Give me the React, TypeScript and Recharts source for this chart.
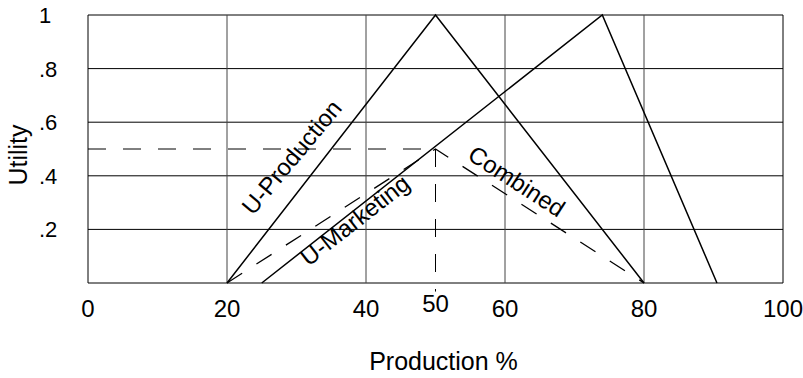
import React from 'react';
import {
  Label,
  Line,
  LineChart,
  ReferenceArea,
  ReferenceDot,
  ReferenceLine,
  XAxis,
  YAxis
} from 'recharts';

const productionX = [20, 50, 80];
const productionU = [0, 1, 0];
const marketingX = [25, 74, 90.5];
const marketingU = [0, 1, 0];
const combinedX = [20, 50, 80];
const combinedU = [0, 0.5, 0];

const xTicks = [0, 20, 40, 50, 60, 80, 100];
const yTicks = [0.2, 0.4, 0.6, 0.8, 1];
const yTickLabels = ['.2', '.4', '.6', '.8', '1'];
const gridX = [20, 40, 60, 80];
const gridY = [0.2, 0.4, 0.6, 0.8];

// where the combined curve peaks, marked by the dashed guides
const optimumX = 50;
const optimumU = 0.5;

const curveLabels = [
  { text: 'U-Production', x: 29.3, u: 0.47, angle: -50 },
  { text: 'U-Marketing', x: 38.4, u: 0.235, angle: -38 },
  { text: 'Combined', x: 61.7, u: 0.38, angle: 33 }
];

const FONT = '"Liberation Sans", Arial, Helvetica, sans-serif';
const DASH = '18 17';

const toPoints = (xs: number[], us: number[]) => xs.map((x, i) => ({ x, u: us[i] }));

function XTick({ x, y, payload }: any) {
  const lift = payload.value === optimumX ? -5 : 0;
  return (
    <text x={x} y={y + 32 + lift} textAnchor="middle" fontSize={24} fontFamily={FONT} fill="#000">
      {payload.value}
    </text>
  );
}

function YTick({ y, payload }: any) {
  const index = yTicks.indexOf(payload.value);
  return (
    <text x={39} y={y + 8} textAnchor="start" fontSize={22} fontFamily={FONT} fill="#000">
      {yTickLabels[index]}
    </text>
  );
}

export default function App() {
  return (
    <div style={{ position: 'absolute', left: 0, top: 0, background: '#fff' }}>
      <LineChart width={803} height={378} margin={{ top: 15, right: 20, bottom: 0, left: 0 }}>
        <XAxis
          type="number"
          dataKey="x"
          domain={[0, 100]}
          ticks={xTicks}
          interval={0}
          height={95}
          axisLine={false}
          tickLine={false}
          tickSize={0}
          tick={<XTick />}
        >
          <Label
            content={({ viewBox }: any) => (
              <text
                x={viewBox.x + viewBox.width / 2 + 8}
                y={viewBox.y + 87}
                textAnchor="middle"
                fontSize={25}
                fontFamily={FONT}
                fill="#000"
              >
                Production %
              </text>
            )}
          />
        </XAxis>
        <YAxis
          type="number"
          dataKey="u"
          domain={[0, 1]}
          ticks={yTicks}
          interval={0}
          width={88}
          axisLine={false}
          tickLine={false}
          tickSize={0}
          tick={<YTick />}
        >
          <Label
            content={({ viewBox }: any) => {
              const cx = viewBox.x + 18;
              const cy = viewBox.y + viewBox.height / 2 + 6;
              return (
                <text
                  x={cx}
                  y={cy}
                  transform={`rotate(-90 ${cx} ${cy})`}
                  textAnchor="middle"
                  dominantBaseline="central"
                  fontSize={25}
                  fontFamily={FONT}
                  fill="#000"
                >
                  Utility
                </text>
              );
            }}
          />
        </YAxis>

        {gridY.map(u => (
          <ReferenceLine key={`gy${u}`} y={u} stroke="#000" strokeWidth={1} />
        ))}
        {gridX.map(x => (
          <ReferenceLine key={`gx${x}`} x={x} stroke="#444" strokeWidth={1} />
        ))}
        <ReferenceArea x1={0} x2={100} y1={0} y2={1} fill="none" stroke="#000" strokeWidth={1} />

        <ReferenceLine
          segment={[{ x: 0, y: optimumU }, { x: optimumX, y: optimumU }]}
          stroke="#000"
          strokeDasharray={DASH}
        />
        <ReferenceLine
          segment={[{ x: optimumX, y: optimumU }, { x: optimumX, y: -0.032 }]}
          stroke="#000"
          strokeDasharray={DASH}
          ifOverflow="visible"
        />

        <Line
          data={toPoints(productionX, productionU)}
          dataKey="u"
          type="linear"
          stroke="#000"
          strokeWidth={1.5}
          dot={false}
          isAnimationActive={false}
        />
        <Line
          data={toPoints(marketingX, marketingU)}
          dataKey="u"
          type="linear"
          stroke="#000"
          strokeWidth={1.5}
          dot={false}
          isAnimationActive={false}
        />
        <Line
          data={toPoints(combinedX, combinedU)}
          dataKey="u"
          type="linear"
          stroke="#000"
          strokeWidth={1.3}
          strokeDasharray={DASH}
          dot={false}
          isAnimationActive={false}
        />

        {curveLabels.map(label => (
          <ReferenceDot
            key={label.text}
            x={label.x}
            y={label.u}
            r={0}
            ifOverflow="visible"
            shape={(p: any) => (
              <text
                x={p.cx}
                y={p.cy}
                transform={`rotate(${label.angle} ${p.cx} ${p.cy})`}
                textAnchor="middle"
                dominantBaseline="central"
                fontSize={24}
                fontFamily={FONT}
                fill="#000"
              >
                {label.text}
              </text>
            )}
          />
        ))}
      </LineChart>
    </div>
  );
}
